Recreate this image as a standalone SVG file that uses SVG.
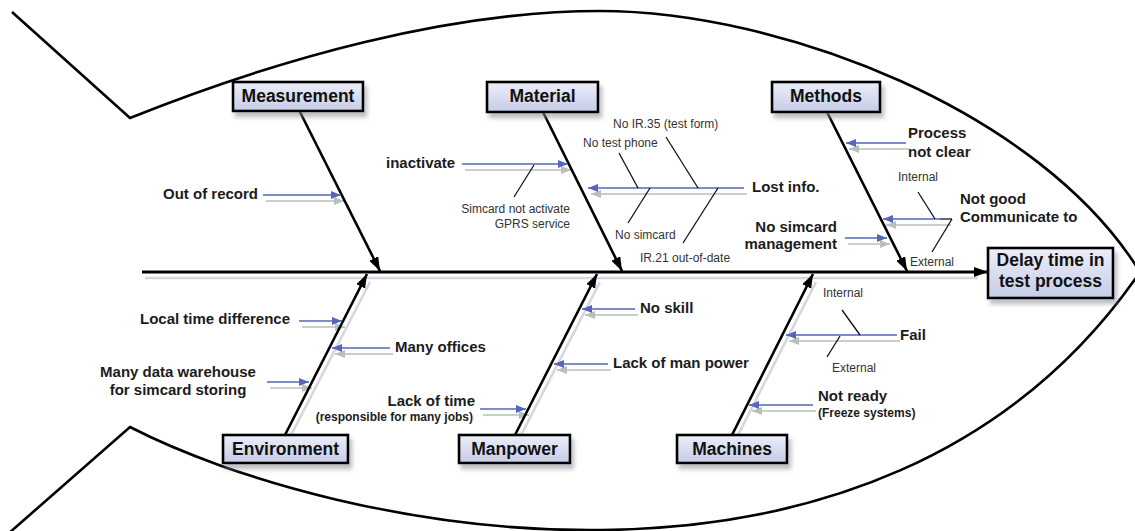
<svg xmlns="http://www.w3.org/2000/svg" width="1135" height="531" viewBox="0 0 1135 531">
  <style>
    .outline { fill: none; stroke: #000; stroke-width: 2.6; stroke-linejoin: miter; }
    .spine { fill: none; stroke: #000; stroke-width: 3; }
    .bone { fill: none; stroke: #000; stroke-width: 2.6; }
    .bone-sh { fill: none; stroke: #d4d6e2; stroke-width: 2.6; }
    .sub { fill: none; stroke: #5566bb; stroke-width: 1.6; }
    .sub-sh { fill: none; stroke: #b9bfb9; stroke-width: 1.6; }
    .twig { fill: none; stroke: #111; stroke-width: 1.3; }
    .box { fill: url(#boxFill); stroke: #000; stroke-width: 2.6; }
    .title { font-family: "Liberation Sans", Arial, sans-serif; font-weight: bold; font-size: 17.5px; fill: #111; text-anchor: middle; }
    .cause { font-family: "Liberation Sans", Arial, sans-serif; font-weight: bold; font-size: 15px; fill: #1c1c1c; }
    .note { font-family: "Liberation Sans", Arial, sans-serif; font-weight: bold; font-size: 12px; fill: #1c1c1c; }
    .small { font-family: "Liberation Sans", Arial, sans-serif; font-size: 12px; fill: #333; }
    .end { text-anchor: end; }
    .mid { text-anchor: middle; }
  </style>
  <defs>
    <linearGradient id="boxFill" x1="0" y1="0" x2="0" y2="1">
      <stop offset="0" stop-color="#eceef8"/>
      <stop offset="1" stop-color="#c6cce8"/>
    </linearGradient>
    <filter id="shadow" x="-10%" y="-20%" width="130%" height="160%">
      <feDropShadow dx="3" dy="5" stdDeviation="2.2" flood-color="#8a8c99" flood-opacity="0.55"/>
    </filter>
    <marker id="arrowBlack" markerUnits="userSpaceOnUse" markerWidth="15" markerHeight="11" refX="14" refY="5" orient="auto">
      <path d="M0,0 L14,5 L0,10 Z" fill="#000"/>
    </marker>
    <marker id="arrowBlue" markerUnits="userSpaceOnUse" markerWidth="11" markerHeight="9" refX="10" refY="4" orient="auto">
      <path d="M0,0 L10,4 L0,8 Z" fill="#5566bb"/>
    </marker>
    <marker id="arrowGrey" markerUnits="userSpaceOnUse" markerWidth="11" markerHeight="9" refX="10" refY="4" orient="auto">
      <path d="M0,0 L10,4 L0,8 Z" fill="#b9bfb9"/>
    </marker>
  </defs>

  <rect width="1135" height="531" fill="#fff"/>

  <!-- fish outline: tail and body -->
  <g id="outline">
    <path class="outline" d="M12,12 L130,118 C280,58 450,11 600,11 C780,11 1040,110 1140,272 C880,650 330,530 130,427 L0,541"/>
  </g>

  <!-- connectors: spine, bones, sub-cause arrows and twigs -->
  <g id="connectors">
    <!-- soft shadows -->
    <g transform="translate(3,6)">
      <line class="bone-sh" x1="142" y1="272" x2="975" y2="272"/>
      <line class="bone-sh" x1="285" y1="435" x2="367" y2="276"/>
      <line class="bone-sh" x1="515" y1="435" x2="597" y2="276"/>
      <line class="bone-sh" x1="732" y1="435" x2="813" y2="276"/>
      <g class="sub-sh">
        <line class="sub-sh" x1="263" y1="195" x2="341" y2="195" marker-end="url(#arrowGrey)"/>
        <line class="sub-sh" x1="462" y1="164" x2="568" y2="164" marker-end="url(#arrowGrey)"/>
        <line class="sub-sh" x1="744" y1="188" x2="588" y2="188" marker-end="url(#arrowGrey)"/>
        <line class="sub-sh" x1="906" y1="143" x2="846" y2="143" marker-end="url(#arrowGrey)"/>
        <line class="sub-sh" x1="948" y1="219" x2="883" y2="219" marker-end="url(#arrowGrey)"/>
        <line class="sub-sh" x1="845" y1="238" x2="887" y2="238" marker-end="url(#arrowGrey)"/>
        <line class="sub-sh" x1="299" y1="321" x2="342" y2="321" marker-end="url(#arrowGrey)"/>
        <line class="sub-sh" x1="390" y1="348" x2="332" y2="348" marker-end="url(#arrowGrey)"/>
        <line class="sub-sh" x1="267" y1="382" x2="309" y2="382" marker-end="url(#arrowGrey)"/>
        <line class="sub-sh" x1="635" y1="309" x2="582" y2="309" marker-end="url(#arrowGrey)"/>
        <line class="sub-sh" x1="608" y1="364" x2="554" y2="364" marker-end="url(#arrowGrey)"/>
        <line class="sub-sh" x1="480" y1="409" x2="526" y2="409" marker-end="url(#arrowGrey)"/>
        <line class="sub-sh" x1="897" y1="335" x2="786" y2="335" marker-end="url(#arrowGrey)"/>
        <line class="sub-sh" x1="813" y1="405" x2="749" y2="405" marker-end="url(#arrowGrey)"/>
      </g>
    </g>

    <!-- spine to the effect box -->
    <line class="spine" x1="142" y1="272" x2="988" y2="272" marker-end="url(#arrowBlack)"/>

    <!-- main bones -->
    <line class="bone" x1="300" y1="112" x2="380" y2="271" marker-end="url(#arrowBlack)"/>
    <line class="bone" x1="543" y1="112" x2="622" y2="271" marker-end="url(#arrowBlack)"/>
    <line class="bone" x1="827" y1="112" x2="907" y2="271" marker-end="url(#arrowBlack)"/>
    <line class="bone" x1="285" y1="435" x2="367" y2="274" marker-end="url(#arrowBlack)"/>
    <line class="bone" x1="515" y1="435" x2="597" y2="274" marker-end="url(#arrowBlack)"/>
    <line class="bone" x1="732" y1="435" x2="813" y2="274" marker-end="url(#arrowBlack)"/>

    <!-- sub-cause arrows -->
    <line class="sub" x1="263" y1="195" x2="341" y2="195" marker-end="url(#arrowBlue)"/>
    <line class="sub" x1="462" y1="164" x2="568" y2="164" marker-end="url(#arrowBlue)"/>
    <line class="sub" x1="744" y1="188" x2="588" y2="188" marker-end="url(#arrowBlue)"/>
    <line class="sub" x1="906" y1="143" x2="846" y2="143" marker-end="url(#arrowBlue)"/>
    <line class="sub" x1="940" y1="219" x2="883" y2="219" marker-end="url(#arrowBlue)"/>
    <line class="sub" x1="845" y1="238" x2="887" y2="238" marker-end="url(#arrowBlue)"/>
    <line class="sub" x1="299" y1="321" x2="342" y2="321" marker-end="url(#arrowBlue)"/>
    <line class="sub" x1="390" y1="348" x2="332" y2="348" marker-end="url(#arrowBlue)"/>
    <line class="sub" x1="267" y1="382" x2="309" y2="382" marker-end="url(#arrowBlue)"/>
    <line class="sub" x1="635" y1="309" x2="582" y2="309" marker-end="url(#arrowBlue)"/>
    <line class="sub" x1="608" y1="364" x2="554" y2="364" marker-end="url(#arrowBlue)"/>
    <line class="sub" x1="480" y1="409" x2="526" y2="409" marker-end="url(#arrowBlue)"/>
    <line class="sub" x1="897" y1="335" x2="786" y2="335" marker-end="url(#arrowBlue)"/>
    <line class="sub" x1="813" y1="405" x2="749" y2="405" marker-end="url(#arrowBlue)"/>

    <!-- twigs off the sub-cause arrows -->
    <line class="twig" x1="534" y1="165" x2="514" y2="197"/>
    <line class="twig" x1="619" y1="153" x2="638" y2="188"/>
    <line class="twig" x1="666" y1="137" x2="698" y2="188"/>
    <line class="twig" x1="650" y1="188" x2="628" y2="223"/>
    <line class="twig" x1="718" y1="188" x2="683" y2="243"/>
    <line class="twig" x1="940" y1="219" x2="952" y2="219"/>
    <line class="twig" x1="918" y1="192" x2="935" y2="219"/>
    <line class="twig" x1="952" y1="219" x2="932" y2="252"/>
    <line class="twig" x1="842" y1="310" x2="860" y2="335"/>
    <line class="twig" x1="840" y1="336" x2="827" y2="357"/>
  </g>

  <!-- category boxes and effect -->
  <g id="measurement">
    <rect class="box" x="233" y="82" width="130" height="29" filter="url(#shadow)"/>
    <text class="title" x="298" y="102">Measurement</text>
  </g>
  <g id="material">
    <rect class="box" x="487" y="82" width="111" height="30" filter="url(#shadow)"/>
    <text class="title" x="542.5" y="102">Material</text>
  </g>
  <g id="methods">
    <rect class="box" x="772" y="82" width="108" height="30" filter="url(#shadow)"/>
    <text class="title" x="826" y="102">Methods</text>
  </g>
  <g id="environment">
    <rect class="box" x="223" y="435" width="125" height="28" filter="url(#shadow)"/>
    <text class="title" x="285.5" y="455">Environment</text>
  </g>
  <g id="manpower">
    <rect class="box" x="459" y="435" width="111" height="28" filter="url(#shadow)"/>
    <text class="title" x="514.5" y="455">Manpower</text>
  </g>
  <g id="machines">
    <rect class="box" x="677" y="435" width="110" height="28" filter="url(#shadow)"/>
    <text class="title" x="732" y="455">Machines</text>
  </g>
  <g id="effect">
    <rect class="box" x="988" y="248" width="125" height="50" filter="url(#shadow)"/>
    <text class="title" x="1050.5" y="266">Delay time in</text>
    <text class="title" x="1050.5" y="287">test process</text>
  </g>

  <!-- cause labels -->
  <g id="cause-labels">
    <text class="cause" x="163" y="199">Out of record</text>
    <text class="cause" x="386" y="168">inactivate</text>
    <text class="cause" x="752" y="192">Lost info.</text>
    <text class="cause" x="908" y="138">Process</text>
    <text class="cause" x="908" y="157">not clear</text>
    <text class="cause" x="960" y="204">Not good</text>
    <text class="cause" x="960" y="222">Communicate to</text>
    <text class="cause end" x="837" y="232">No simcard</text>
    <text class="cause end" x="837" y="249">management</text>
    <text class="cause" x="140" y="324">Local time difference</text>
    <text class="cause" x="395" y="352">Many offices</text>
    <text class="cause mid" x="178" y="377">Many data warehouse</text>
    <text class="cause mid" x="178" y="395">for simcard storing</text>
    <text class="cause" x="640" y="313">No skill</text>
    <text class="cause" x="613" y="368">Lack of man power</text>
    <text class="cause end" x="475" y="406">Lack of time</text>
    <text class="note end" x="473" y="421">(responsible for many jobs)</text>
    <text class="cause" x="900" y="340">Fail</text>
    <text class="cause" x="818" y="401">Not ready</text>
    <text class="note" x="818" y="417">(Freeze systems)</text>
  </g>

  <!-- detail labels on twigs -->
  <g id="detail-labels">
    <text class="small end" x="570" y="213">Simcard not activate</text>
    <text class="small end" x="570" y="228">GPRS service</text>
    <text class="small" x="613" y="128">No IR.35 (test form)</text>
    <text class="small" x="583" y="147">No test phone</text>
    <text class="small" x="615" y="239">No simcard</text>
    <text class="small" x="640" y="262">IR.21 out-of-date</text>
    <text class="small" x="898" y="181">Internal</text>
    <text class="small" x="910" y="266">External</text>
    <text class="small" x="823" y="297">Internal</text>
    <text class="small" x="832" y="372">External</text>
  </g>
</svg>
